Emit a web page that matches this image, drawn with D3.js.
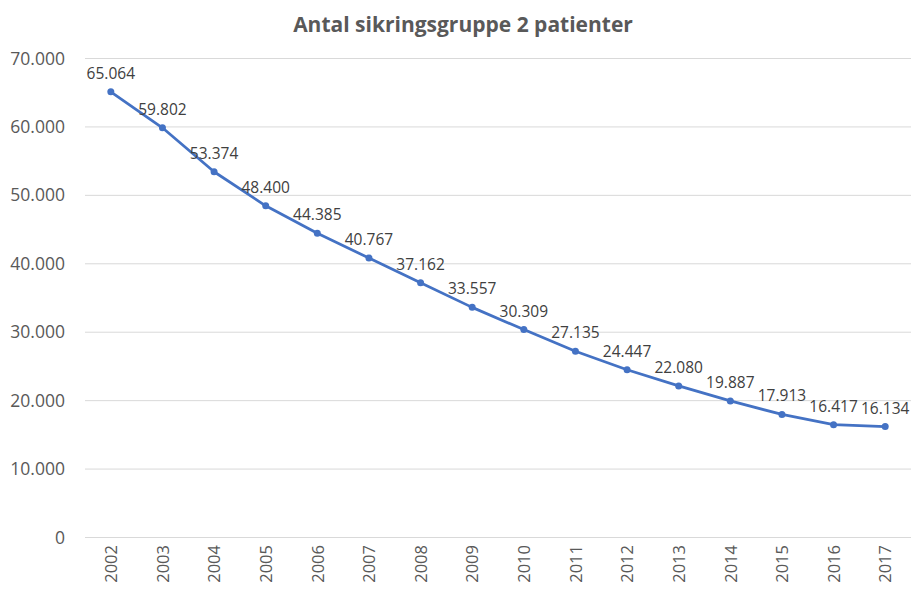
<!DOCTYPE html>
<html>
<head>
<meta charset="utf-8">
<script src="https://cdn.jsdelivr.net/npm/d3@7"></script>
<style>
  body { margin: 0; background: #fff; }
  text { font-family: "Open Sans", "Liberation Sans", sans-serif; }
</style>
</head>
<body>
<div id="chart"></div>
<script>
// data
var years = ["2002","2003","2004","2005","2006","2007","2008","2009","2010","2011","2012","2013","2014","2015","2016","2017"];
var patients = [65064, 59802, 53374, 48400, 44385, 40767, 37162, 33557, 30309, 27135, 24447, 22080, 19887, 17913, 16417, 16134];
var yTicks = [0, 10000, 20000, 30000, 40000, 50000, 60000, 70000];

var W = 913, H = 592;
var margin = {top: 58, right: 2, bottom: 55, left: 85},
    width = W - margin.left - margin.right,
    height = H - margin.top - margin.bottom;

var svg = d3.select("#chart")
    .append("svg")
    .attr("width", W)
    .attr("height", H);

// title
svg.append("text")
    .attr("x", 463)
    .attr("y", 32)
    .attr("text-anchor", "middle")
    .attr("font-size", "21px")
    .attr("font-weight", "bold")
    .attr("fill", "#595959")
    .text("Antal sikringsgruppe 2 patienter");

var g = svg.append("g")
    .attr("transform", "translate(" + margin.left + "," + margin.top + ")");

var x = d3.scalePoint()
    .domain(years)
    .range([0, width])
    .padding(0.5);

var y = d3.scaleLinear()
    .domain([0, 70000])
    .range([height, 0]);

var fmt = function(v) { return d3.format(",")(v).replace(/,/g, "."); };

// gridlines + y labels
var yAxis = g.append("g")
    .call(d3.axisLeft(y).tickValues(yTicks).tickSize(-width).tickFormat(fmt));
yAxis.select(".domain").remove();
yAxis.selectAll("line").attr("stroke", "#d9d9d9").attr("stroke-width", 1);
yAxis.selectAll("text")
    .attr("x", -20)
    .attr("dy", "0.35em")
    .attr("font-size", "17.5px")
    .attr("fill", "#595959")
    .style("font-family", "'Open Sans', 'Liberation Sans', sans-serif");

// x labels
var xAxis = g.append("g")
    .attr("transform", "translate(0," + height + ")")
    .call(d3.axisBottom(x).tickSize(0));
xAxis.select(".domain").remove();
xAxis.selectAll("text")
    .attr("transform", "rotate(-90)")
    .attr("x", -8)
    .attr("y", 0)
    .attr("dy", "0.35em")
    .style("text-anchor", "end")
    .attr("font-size", "16.5px")
    .attr("fill", "#595959")
    .style("font-family", "'Open Sans', 'Liberation Sans', sans-serif");

// line
var line = d3.line()
    .x(function(d, i) { return x(years[i]); })
    .y(function(d) { return y(d); });

g.append("path")
    .datum(patients)
    .attr("fill", "none")
    .attr("stroke", "#4472c4")
    .attr("stroke-width", 2.75)
    .attr("stroke-linejoin", "round")
    .attr("d", line);

g.selectAll("circle")
    .data(patients)
    .enter().append("circle")
    .attr("cx", function(d, i) { return x(years[i]); })
    .attr("cy", function(d) { return y(d); })
    .attr("r", 3.5)
    .attr("fill", "#4472c4");

// data labels
g.selectAll(".lbl")
    .data(patients)
    .enter().append("text")
    .attr("class", "lbl")
    .attr("x", function(d, i) { return x(years[i]); })
    .attr("y", function(d) { return y(d) - 13; })
    .attr("text-anchor", "middle")
    .attr("font-size", "15.5px")
    .attr("fill", "#404040")
    .text(fmt);
</script>
</body>
</html>
